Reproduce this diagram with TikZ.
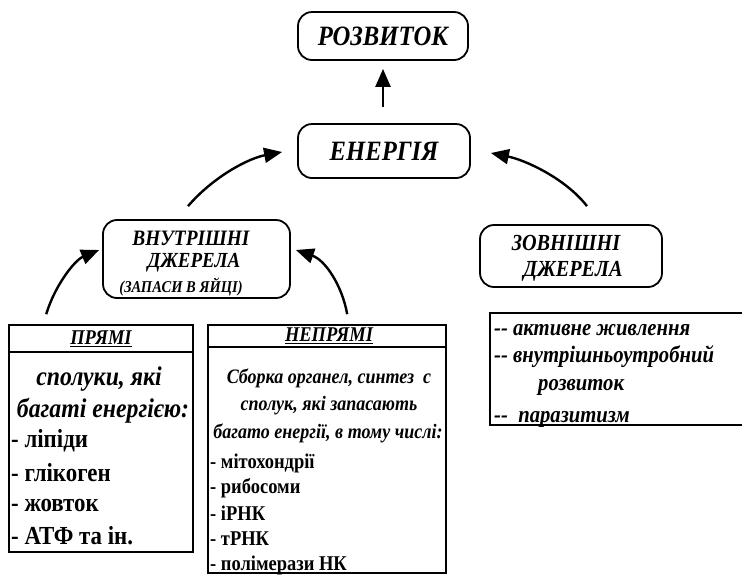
\documentclass[tikz,border=0pt]{standalone}
\usepackage{fontspec}
\setmainfont{Liberation Serif}
\newfontfamily\cnd[FakeStretch=0.88]{Liberation Serif}
\usetikzlibrary{arrows.meta,calc}
\newcommand\fs[1]{\fontsize{#1}{#1}\selectfont}
\tikzset{
  rbox/.style={draw,line width=1.8pt,rounded corners=14pt,inner sep=0pt,font=\cnd\bfseries\itshape},
  sqbox/.style={draw,line width=1.6pt,inner sep=0pt},
  arr/.style={line width=2.4pt,-{Triangle[length=18pt,width=15pt]}},
  hd/.style={inner sep=0pt,font=\cnd\bfseries\itshape\fs{21}},
  big/.style={inner sep=0pt,font=\cnd\bfseries\itshape\fs{27}},
  item/.style={anchor=west,inner sep=0pt,font=\cnd\bfseries\fs{26}},
  mid/.style={font=\cnd\bfseries\itshape\fs{20.5},inner sep=0pt},
  itm/.style={anchor=west,inner sep=0pt,font=\cnd\bfseries\fs{21}},
  rt/.style={anchor=west,inner sep=0pt,font=\cnd\itshape\bfseries\fs{23.5}},
  lbl/.style={inner sep=0pt,font=\cnd\bfseries\itshape\fs{#1}}
}
\begin{document}
\begin{tikzpicture}[x=1pt,y=-1pt]
\useasboundingbox (0,0) rectangle (742,574);
% rounded boxes
\node[rbox,minimum width=170pt,minimum height=48pt,font=\cnd\bfseries\itshape\fs{28}] (razv) at (383,36) {РОЗВИТОК};
\node[rbox,minimum width=172pt,minimum height=54pt,font=\cnd\bfseries\itshape\fs{28}] (energ) at (384,151) {ЕНЕРГІЯ};
\node[rbox,minimum width=187pt,minimum height=78pt] (vnutr) at (196.5,259) {};
\node[lbl=22] (v1) at (191,238) {ВНУТРІШНІ};
\node[lbl=21.5] (v2) at (194,263) {ДЖЕРЕЛА};
\node[lbl=16.5] (v3) at (181,287) {(ЗАПАСИ В ЯЙЦІ)};
\node[rbox,minimum width=182pt,minimum height=62pt] (zovn) at (571,256) {};
\node[lbl=23] (z1) at (566,243) {ЗОВНІШНІ};
\node[lbl=23] (z2) at (573,271) {ДЖЕРЕЛА};
% arrows
\draw[arr] ($(energ.north)+(-1,-16)$) -- ($(razv.south)+(0,8)$);
\draw[arr] ($(vnutr.north)+(-8.5,-13)$) .. controls (215,175) and (250,158) .. ($(energ.west)+(-15,1)$);
\draw[arr] ($(zovn.north)+(16,-18)$) .. controls (565,178) and (525,160) .. ($(energ.east)+(20,2)$);
% square boxes
\node[sqbox,minimum width=184pt,minimum height=227pt] (prym) at (101,438.5) {};
\draw[line width=1.6pt] ($(prym.north west)+(0,28)$) -- ($(prym.north east)+(0,28)$);
\node[sqbox,minimum width=238pt,minimum height=248pt] (neprym) at (327,449) {};
\draw[line width=1.6pt] ($(neprym.north west)+(0,23)$) -- ($(neprym.north east)+(0,23)$);
\draw[arr] ($(prym.north west)+(38,-10)$) .. controls (55,285) and (75,260) .. ($(vnutr.west)+(-3,-9)$);
\draw[arr] ($(neprym.north west)+(140,-10)$) .. controls (342,285) and (325,260) .. ($(vnutr.east)+(5,-9)$);
\coordinate (rtr) at (745,313);
\coordinate (rbr) at (745,425);
\coordinate (rtl) at (490,313);
\coordinate (rbl) at (490,425);
\draw[line width=1.6pt] (rtr) -- (rtl) -- (rbl) -- (rbr);
% ПРЯМІ texts
\node[hd] (ph) at (101,339) {\underline{ПРЯМІ}};
\node[big] (p1) at (99,379) {сполуки, які};
\node[big] (p2) at (103,411) {багаті енергією:};
\node[item] (p3) at (11,441) {- ліпіди};
\node[item] (p4) at (11,473) {- глікоген};
\node[item] (p5) at (11,505) {- жовток};
\node[item] (p6) at (11,536) {- АТФ та ін.};
% НЕПРЯМІ texts
\node[hd] (nh) at (329,336) {\underline{НЕПРЯМІ}};
\node[mid] (n1) at (329,378) {Сборка органел, синтез\ \ с};
\node[mid] (n2) at (329,406) {сполук, які запасають};
\node[mid] (n3) at (328,433) {багато енергії, в тому числі:};
\node[itm] (n4) at (210,463) {- мітохондрії};
\node[itm] (n5) at (210,488) {- рибосоми};
\node[itm] (n6) at (210,513) {- іРНК};
\node[itm] (n7) at (210,539) {- тРНК};
\node[itm] (n8) at (210,565) {- полімерази НК};
% right list
\node[rt] (r1) at (494,330) {-- активне живлення};
\node[rt] (r2) at (494,357) {-- внутрішньоутробний};
\node[rt] (r3) at (538,387) {розвиток};
\node[rt] (r4) at (494,419) {--\ \ паразитизм};
\end{tikzpicture}
\end{document}
